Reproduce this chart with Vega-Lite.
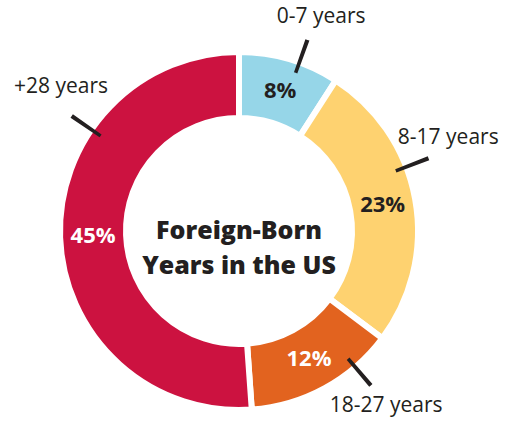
{
  "$schema": "https://vega.github.io/schema/vega-lite/v6.json",
  "width": 478,
  "height": 386,
  "autosize": "none",
  "padding": {"left": 0, "top": 38, "right": 29, "bottom": 0},
  "background": "white",
  "config": {"view": {"stroke": null}, "text": {"font": "Open Sans"}},
  "data": {
    "values": [
      {"category": "0-7 years", "rank": 1, "value": 8, "pct": "8%"},
      {"category": "8-17 years", "rank": 2, "value": 23, "pct": "23%"},
      {"category": "18-27 years", "rank": 3, "value": 12, "pct": "12%"},
      {"category": "+28 years", "rank": 4, "value": 45, "pct": "45%"}
    ]
  },
  "layer": [
    {
      "encoding": {
        "theta": {"field": "value", "type": "quantitative", "stack": true},
        "order": {"field": "rank", "type": "quantitative"}
      },
      "layer": [
        {
          "mark": {"type": "arc", "outerRadius": 179, "innerRadius": 113, "stroke": "white", "strokeWidth": 6},
          "encoding": {
            "color": {
              "field": "category",
              "type": "nominal",
              "scale": {
                "domain": ["0-7 years", "8-17 years", "18-27 years", "+28 years"],
                "range": ["#96d6e8", "#fed270", "#e2631f", "#cc1240"]
              },
              "legend": null
            }
          }
        },
        {
          "mark": {"type": "text", "radius": 146, "fontWeight": "bold", "fontSize": 22, "align": "center", "baseline": "middle"},
          "encoding": {
            "text": {"field": "pct", "type": "nominal"},
            "color": {"condition": {"test": "datum.rank >= 3", "value": "white"}, "value": "#231f20"}
          }
        },
        {
          "transform": [
            {"stack": "value", "groupby": [], "sort": [{"field": "rank", "order": "ascending"}], "as": ["v0", "v1"]}
          ],
          "mark": {
            "type": "arc",
            "outerRadius": 203,
            "innerRadius": 168,
            "fill": "#231f20",
            "thetaOffset": {"expr": "datum.rank === 1 ? 0.3333 : datum.rank === 2 ? 0.6225 : datum.rank === 3 ? 0.2108 : 2.2338"},
            "theta2Offset": {"expr": "datum.rank === 1 ? -0.2169 : datum.rank === 2 ? -0.9987 : datum.rank === 3 ? -0.6250 : -0.9582"}
          },
          "encoding": {
            "theta": {"field": "v0", "type": "quantitative"},
            "theta2": {"field": "v1"}
          }
        },
        {
          "mark": {
            "type": "text",
            "radius": 229,
            "fontSize": 21,
            "color": "#231f20",
            "align": "center",
            "baseline": "middle",
            "thetaOffset": {"expr": "datum.rank === 1 ? 0.081 : datum.rank === 2 ? -0.240 : datum.rank === 3 ? -0.198 : 0.716"}
          },
          "encoding": {"text": {"field": "category", "type": "nominal"}}
        }
      ]
    },
    {
      "data": {"values": [{"title": "Foreign-Born\nYears in the US"}]},
      "mark": {"type": "text", "fontSize": 25, "fontWeight": 800, "color": "#231f20", "lineBreak": "\n", "lineHeight": 35, "align": "center", "baseline": "middle"},
      "encoding": {"text": {"field": "title", "type": "nominal"}}
    }
  ]
}
